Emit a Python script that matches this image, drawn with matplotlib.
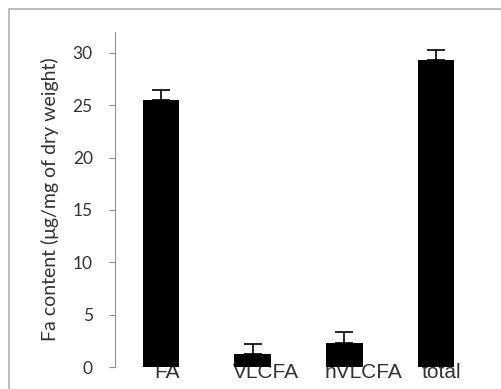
import numpy as np
import matplotlib.pyplot as plt
from matplotlib.patches import Rectangle
from matplotlib.transforms import ScaledTranslation

categories = ["FA", "VLCFA", "hVLCFA", "total"]
values = [25.5, 1.2, 2.3, 29.3]
errors = [1.0, 0.95, 1.0, 0.95]

fig = plt.figure(figsize=(5.02, 3.89), dpi=100)

# outer frame (chart area border)
fig.patches.append(Rectangle((9 / 502, -0.1), 1.2, 1 - 9 / 389 + 0.1,
                             transform=fig.transFigure, fill=False,
                             edgecolor="#b0b0b0", linewidth=1.2))

ax = fig.add_axes([115 / 502, 1 - 367 / 389, 367 / 502, 335 / 389])
x = np.arange(len(categories))
ax.bar(x, values, width=0.4, color="black", zorder=3,
       yerr=[np.zeros(len(errors)), errors], capsize=6.5,
       error_kw=dict(ecolor="black", elinewidth=1.2, capthick=1.2))

ax.set_xlim(-0.5, 3.5)
ax.set_ylim(0, 32)
ax.set_yticks(range(0, 31, 5))
for side in ["top", "right", "bottom"]:
    ax.spines[side].set_visible(False)
ax.spines["left"].set_color("#909090")
ax.tick_params(axis="y", colors="#909090", labelcolor="#333333",
               labelsize=12.5, length=4, pad=12)
for lab in ax.get_yticklabels():
    lab.set_family("Lato")
ax.tick_params(axis="x", length=0, pad=-3, labelsize=15, labelcolor="#333333")
ax.set_xticks(x)
ax.set_xticklabels(categories, family="Liberation Sans")
offsets = [0.065, 0.13, 0.195, 0.055]
for lab, off in zip(ax.get_xticklabels(), offsets):
    lab.set_transform(lab.get_transform() + ScaledTranslation(off, 0, fig.dpi_scale_trans))

ax.set_ylabel("Fa content (μg/mg of dry weight)", fontsize=14, family="Lato",
              color="#333333", labelpad=10)

fig.savefig("out.png", dpi=100)
